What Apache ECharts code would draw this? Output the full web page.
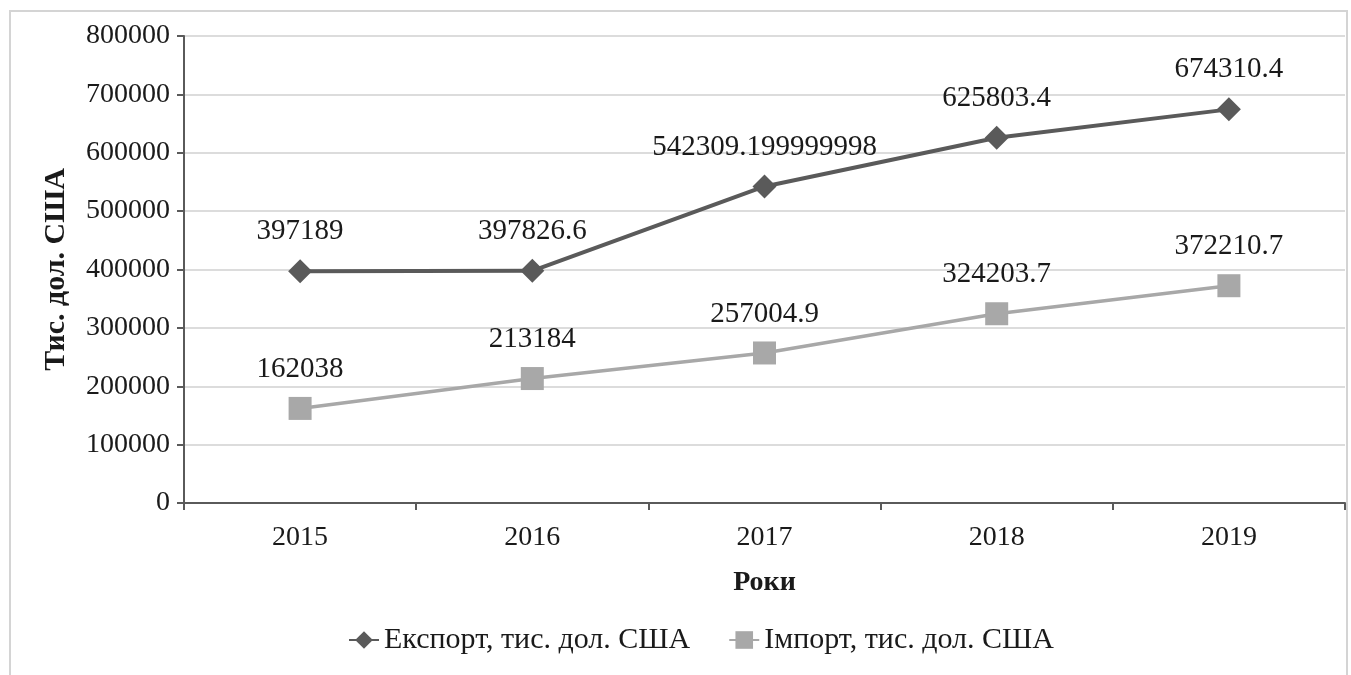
<!DOCTYPE html>
<html>
<head>
<meta charset="utf-8">
<script src="https://cdn.jsdelivr.net/npm/echarts@6/dist/echarts.min.js"></script>
<style>
  html, body { margin: 0; padding: 0; background: #fff; }
  #main { width: 1351px; height: 675px; }
</style>
</head>
<body>
<div id="main"></div>
<script>
// chart data
const years = ['2015', '2016', '2017', '2018', '2019'];
const exportValues = [397189, 397826.6, 542309.199999998, 625803.4, 674310.4];
const importValues = [162038, 213184, 257004.9, 324203.7, 372210.7];
const exportName = 'Експорт, тис. дол. США';
const importName = 'Імпорт, тис. дол. США';

const fontFamily = '"Liberation Serif", "Times New Roman", serif';
const textColor = '#1a1a1a';

const chart = echarts.init(document.getElementById('main'));

const option = {
    backgroundColor: '#fff',
    textStyle: { fontFamily: fontFamily },
    graphic: [{
        type: 'rect',
        shape: { x: 10, y: 11, width: 1337, height: 700 },
        style: { fill: 'none', stroke: '#d4d4d4', lineWidth: 2 },
        silent: true
    }],
    grid: { left: 184, top: 36, right: 6, bottom: 172 },
    legend: {
        bottom: 15,
        left: 343,
        itemGap: 38,
        itemWidth: 30,
        itemHeight: 22,
        textStyle: { fontFamily: fontFamily, fontSize: 30, color: textColor },
        data: [exportName, importName]
    },
    xAxis: {
        type: 'category',
        data: years,
        boundaryGap: true,
        name: 'Роки',
        nameLocation: 'middle',
        nameGap: 66,
        nameTextStyle: { fontFamily: fontFamily, fontSize: 28, fontWeight: 'bold', color: textColor },
        axisLine: { lineStyle: { color: '#5a5a5a', width: 2 } },
        axisTick: { show: true, length: 7, lineStyle: { color: '#5a5a5a', width: 2 } },
        axisLabel: { margin: 21, fontSize: 28, color: textColor, fontFamily: fontFamily },
        splitLine: { show: false }
    },
    yAxis: {
        type: 'value',
        min: 0,
        max: 800000,
        interval: 100000,
        name: 'Тис. дол. США',
        nameLocation: 'middle',
        nameGap: 113,
        nameRotate: 90,
        nameTextStyle: { fontFamily: fontFamily, fontSize: 30, fontWeight: 'bold', color: textColor },
        axisLine: { show: true, lineStyle: { color: '#5a5a5a', width: 2 } },
        axisTick: { show: true, length: 7, lineStyle: { color: '#5a5a5a', width: 2 } },
        axisLabel: {
            margin: 14, fontSize: 28, color: textColor, fontFamily: fontFamily,
            formatter: v => String(v)
        },
        splitLine: { lineStyle: { color: '#dcdcdc', width: 2 } }
    },
    series: [
        {
            name: exportName,
            type: 'line',
            data: exportValues,
            symbol: 'diamond',
            symbolSize: 24,
            color: '#5a5a5a',
            lineStyle: { width: 4, color: '#5a5a5a' },
            itemStyle: { color: '#5a5a5a' },
            label: {
                show: true,
                position: 'top',
                distance: 13,
                fontSize: 29,
                color: textColor,
                fontFamily: fontFamily,
                formatter: p => String(p.value)
            },
            z: 3
        },
        {
            name: importName,
            type: 'line',
            data: importValues,
            symbol: 'rect',
            symbolSize: 23,
            color: '#a8a8a8',
            lineStyle: { width: 3.5, color: '#a8a8a8' },
            itemStyle: { color: '#a8a8a8' },
            label: {
                show: true,
                position: 'top',
                distance: 13,
                fontSize: 29,
                color: textColor,
                fontFamily: fontFamily,
                formatter: p => String(p.value)
            },
            z: 2
        }
    ],
    animation: false
};

chart.setOption(option);
window.addEventListener('resize', () => chart.resize());
</script>
</body>
</html>
